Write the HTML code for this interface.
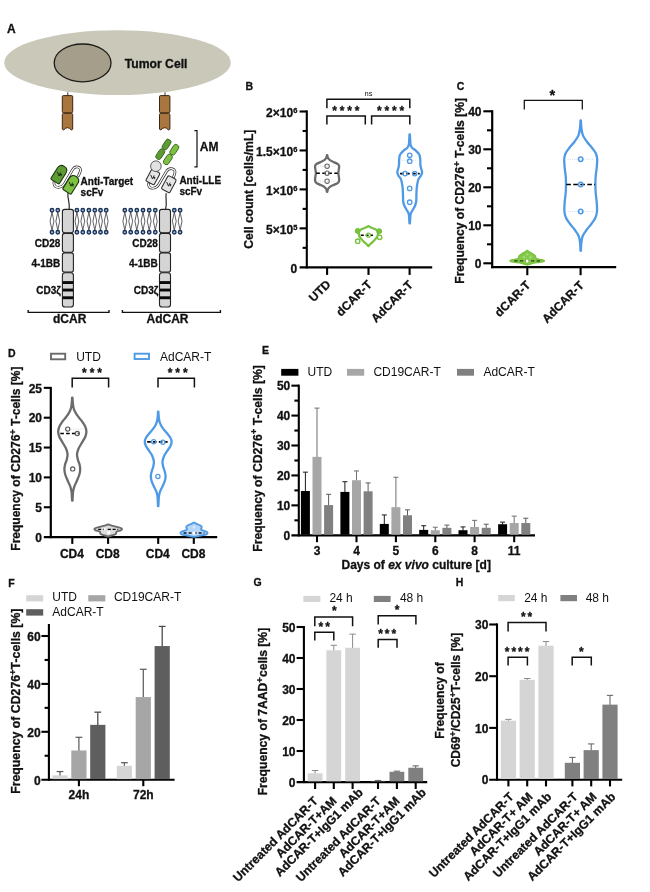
<!DOCTYPE html>
<html lang="en"><head><meta charset="utf-8"><title>Figure</title>
<style>html,body{margin:0;padding:0;background:#fff;}svg{display:block;}text{font-family:"Liberation Sans", Arial, Helvetica, sans-serif;}text[font-weight="bold"]{stroke:#111;stroke-width:0.3px;stroke-linejoin:round;}</style></head><body>
<svg width="650" height="892" viewBox="0 0 650 892">
<rect x="0" y="0" width="650" height="892" fill="#ffffff"/>
<g id="panelA">
<text x="7.00" y="33.40" font-size="12" font-weight="bold" text-anchor="start" fill="#111" >A</text>
<ellipse cx="117.5" cy="62.6" rx="113.3" ry="32.4" fill="#c9c8b9"/>
<ellipse cx="82.6" cy="62.9" rx="28.4" ry="18.9" fill="#a49e8b" stroke="#1e1c18" stroke-width="1.3"/>
<text x="124.70" y="67.60" font-size="12.2" font-weight="bold" text-anchor="start" fill="#111" >Tumor Cell</text>
<line x1="67.80" y1="92.30" x2="67.80" y2="96.00" stroke="#333" stroke-width="1" />
<path d="M63.30,95.6 H71.70 Q72.70,95.6 72.70,96.8 V111.6 Q72.70,112.7 71.50,112.9 H63.50 Q62.30,112.7 62.30,111.6 V96.8 Q62.30,95.6 63.30,95.6 Z" fill="#a8763e" stroke="#3b2611" stroke-width="1"/>
<path d="M63.50,113.3 H71.50 Q72.70,113.6 72.70,114.8 V129.2 L71.30,130 Q67.50,125.4 63.70,130 L62.30,129.2 V114.8 Q62.30,113.6 63.50,113.3 Z" fill="#a8763e" stroke="#3b2611" stroke-width="1"/>
<line x1="165.00" y1="92.30" x2="165.00" y2="96.00" stroke="#333" stroke-width="1" />
<path d="M160.50,95.6 H168.90 Q169.90,95.6 169.90,96.8 V111.6 Q169.90,112.7 168.70,112.9 H160.70 Q159.50,112.7 159.50,111.6 V96.8 Q159.50,95.6 160.50,95.6 Z" fill="#a8763e" stroke="#3b2611" stroke-width="1"/>
<path d="M160.70,113.3 H168.70 Q169.90,113.6 169.90,114.8 V129.2 L168.50,130 Q164.70,125.4 160.90,130 L159.50,129.2 V114.8 Q159.50,113.6 160.70,113.3 Z" fill="#a8763e" stroke="#3b2611" stroke-width="1"/>
<path d="M52.00,212.20 L50.10,221.20 L52.00,230.20 L53.90,221.20 Z" fill="none" stroke="#4f4f55" stroke-width="0.9"/>
<circle cx="52.00" cy="210.20" r="1.75" fill="#9fb8d8" stroke="#1b3357" stroke-width="1.35"/>
<circle cx="52.00" cy="232.20" r="1.75" fill="#9fb8d8" stroke="#1b3357" stroke-width="1.35"/>
<path d="M57.80,212.20 L55.90,221.20 L57.80,230.20 L59.70,221.20 Z" fill="none" stroke="#4f4f55" stroke-width="0.9"/>
<circle cx="57.80" cy="210.20" r="1.75" fill="#9fb8d8" stroke="#1b3357" stroke-width="1.35"/>
<circle cx="57.80" cy="232.20" r="1.75" fill="#9fb8d8" stroke="#1b3357" stroke-width="1.35"/>
<path d="M76.90,212.20 L75.00,221.20 L76.90,230.20 L78.80,221.20 Z" fill="none" stroke="#4f4f55" stroke-width="0.9"/>
<circle cx="76.90" cy="210.20" r="1.75" fill="#9fb8d8" stroke="#1b3357" stroke-width="1.35"/>
<circle cx="76.90" cy="232.20" r="1.75" fill="#9fb8d8" stroke="#1b3357" stroke-width="1.35"/>
<path d="M82.80,212.20 L80.90,221.20 L82.80,230.20 L84.70,221.20 Z" fill="none" stroke="#4f4f55" stroke-width="0.9"/>
<circle cx="82.80" cy="210.20" r="1.75" fill="#9fb8d8" stroke="#1b3357" stroke-width="1.35"/>
<circle cx="82.80" cy="232.20" r="1.75" fill="#9fb8d8" stroke="#1b3357" stroke-width="1.35"/>
<path d="M88.90,212.20 L87.00,221.20 L88.90,230.20 L90.80,221.20 Z" fill="none" stroke="#4f4f55" stroke-width="0.9"/>
<circle cx="88.90" cy="210.20" r="1.75" fill="#9fb8d8" stroke="#1b3357" stroke-width="1.35"/>
<circle cx="88.90" cy="232.20" r="1.75" fill="#9fb8d8" stroke="#1b3357" stroke-width="1.35"/>
<path d="M94.80,212.20 L92.90,221.20 L94.80,230.20 L96.70,221.20 Z" fill="none" stroke="#4f4f55" stroke-width="0.9"/>
<circle cx="94.80" cy="210.20" r="1.75" fill="#9fb8d8" stroke="#1b3357" stroke-width="1.35"/>
<circle cx="94.80" cy="232.20" r="1.75" fill="#9fb8d8" stroke="#1b3357" stroke-width="1.35"/>
<path d="M100.50,212.20 L98.60,221.20 L100.50,230.20 L102.40,221.20 Z" fill="none" stroke="#4f4f55" stroke-width="0.9"/>
<circle cx="100.50" cy="210.20" r="1.75" fill="#9fb8d8" stroke="#1b3357" stroke-width="1.35"/>
<circle cx="100.50" cy="232.20" r="1.75" fill="#9fb8d8" stroke="#1b3357" stroke-width="1.35"/>
<path d="M106.20,212.20 L104.30,221.20 L106.20,230.20 L108.10,221.20 Z" fill="none" stroke="#4f4f55" stroke-width="0.9"/>
<circle cx="106.20" cy="210.20" r="1.75" fill="#9fb8d8" stroke="#1b3357" stroke-width="1.35"/>
<circle cx="106.20" cy="232.20" r="1.75" fill="#9fb8d8" stroke="#1b3357" stroke-width="1.35"/>
<rect x="62.40" y="209.40" width="11.00" height="23.30" fill="#d5d5d5" stroke="#222" stroke-width="1.1" rx="2.2" />
<rect x="62.40" y="233.40" width="11.00" height="18.80" fill="#d5d5d5" stroke="#222" stroke-width="1.1" rx="2.2" />
<rect x="62.40" y="252.90" width="11.00" height="19.20" fill="#d5d5d5" stroke="#222" stroke-width="1.1" rx="2.2" />
<rect x="62.40" y="272.80" width="11.00" height="34.20" fill="#d5d5d5" stroke="#222" stroke-width="1.1" rx="2.6" />
<rect x="62.60" y="281.10" width="10.60" height="2.90" fill="#0a0a0a" stroke="none" stroke-width="0" rx="0" />
<rect x="62.60" y="288.60" width="10.60" height="2.90" fill="#0a0a0a" stroke="none" stroke-width="0" rx="0" />
<rect x="62.60" y="296.30" width="10.60" height="2.90" fill="#0a0a0a" stroke="none" stroke-width="0" rx="0" />
<path d="M124.80,212.20 L122.90,221.20 L124.80,230.20 L126.70,221.20 Z" fill="none" stroke="#4f4f55" stroke-width="0.9"/>
<circle cx="124.80" cy="210.20" r="1.75" fill="#9fb8d8" stroke="#1b3357" stroke-width="1.35"/>
<circle cx="124.80" cy="232.20" r="1.75" fill="#9fb8d8" stroke="#1b3357" stroke-width="1.35"/>
<path d="M130.70,212.20 L128.80,221.20 L130.70,230.20 L132.60,221.20 Z" fill="none" stroke="#4f4f55" stroke-width="0.9"/>
<circle cx="130.70" cy="210.20" r="1.75" fill="#9fb8d8" stroke="#1b3357" stroke-width="1.35"/>
<circle cx="130.70" cy="232.20" r="1.75" fill="#9fb8d8" stroke="#1b3357" stroke-width="1.35"/>
<path d="M136.80,212.20 L134.90,221.20 L136.80,230.20 L138.70,221.20 Z" fill="none" stroke="#4f4f55" stroke-width="0.9"/>
<circle cx="136.80" cy="210.20" r="1.75" fill="#9fb8d8" stroke="#1b3357" stroke-width="1.35"/>
<circle cx="136.80" cy="232.20" r="1.75" fill="#9fb8d8" stroke="#1b3357" stroke-width="1.35"/>
<path d="M143.00,212.20 L141.10,221.20 L143.00,230.20 L144.90,221.20 Z" fill="none" stroke="#4f4f55" stroke-width="0.9"/>
<circle cx="143.00" cy="210.20" r="1.75" fill="#9fb8d8" stroke="#1b3357" stroke-width="1.35"/>
<circle cx="143.00" cy="232.20" r="1.75" fill="#9fb8d8" stroke="#1b3357" stroke-width="1.35"/>
<path d="M149.20,212.20 L147.30,221.20 L149.20,230.20 L151.10,221.20 Z" fill="none" stroke="#4f4f55" stroke-width="0.9"/>
<circle cx="149.20" cy="210.20" r="1.75" fill="#9fb8d8" stroke="#1b3357" stroke-width="1.35"/>
<circle cx="149.20" cy="232.20" r="1.75" fill="#9fb8d8" stroke="#1b3357" stroke-width="1.35"/>
<path d="M155.30,212.20 L153.40,221.20 L155.30,230.20 L157.20,221.20 Z" fill="none" stroke="#4f4f55" stroke-width="0.9"/>
<circle cx="155.30" cy="210.20" r="1.75" fill="#9fb8d8" stroke="#1b3357" stroke-width="1.35"/>
<circle cx="155.30" cy="232.20" r="1.75" fill="#9fb8d8" stroke="#1b3357" stroke-width="1.35"/>
<path d="M174.30,212.20 L172.40,221.20 L174.30,230.20 L176.20,221.20 Z" fill="none" stroke="#4f4f55" stroke-width="0.9"/>
<circle cx="174.30" cy="210.20" r="1.75" fill="#9fb8d8" stroke="#1b3357" stroke-width="1.35"/>
<circle cx="174.30" cy="232.20" r="1.75" fill="#9fb8d8" stroke="#1b3357" stroke-width="1.35"/>
<path d="M180.10,212.20 L178.20,221.20 L180.10,230.20 L182.00,221.20 Z" fill="none" stroke="#4f4f55" stroke-width="0.9"/>
<circle cx="180.10" cy="210.20" r="1.75" fill="#9fb8d8" stroke="#1b3357" stroke-width="1.35"/>
<circle cx="180.10" cy="232.20" r="1.75" fill="#9fb8d8" stroke="#1b3357" stroke-width="1.35"/>
<rect x="159.50" y="209.40" width="11.00" height="23.30" fill="#d5d5d5" stroke="#222" stroke-width="1.1" rx="2.2" />
<rect x="159.50" y="233.40" width="11.00" height="18.80" fill="#d5d5d5" stroke="#222" stroke-width="1.1" rx="2.2" />
<rect x="159.50" y="252.90" width="11.00" height="19.20" fill="#d5d5d5" stroke="#222" stroke-width="1.1" rx="2.2" />
<rect x="159.50" y="272.80" width="11.00" height="34.20" fill="#d5d5d5" stroke="#222" stroke-width="1.1" rx="2.6" />
<rect x="159.70" y="281.10" width="10.60" height="2.90" fill="#0a0a0a" stroke="none" stroke-width="0" rx="0" />
<rect x="159.70" y="288.60" width="10.60" height="2.90" fill="#0a0a0a" stroke="none" stroke-width="0" rx="0" />
<rect x="159.70" y="296.30" width="10.60" height="2.90" fill="#0a0a0a" stroke="none" stroke-width="0" rx="0" />
<text x="60.30" y="247.00" font-size="10" font-weight="bold" text-anchor="end" fill="#111" >CD28</text>
<text x="60.30" y="266.80" font-size="10" font-weight="bold" text-anchor="end" fill="#111" >4-1BB</text>
<text x="60.90" y="293.60" font-size="10" font-weight="bold" text-anchor="end" fill="#111" >CD3ζ</text>
<text x="157.80" y="247.00" font-size="10" font-weight="bold" text-anchor="end" fill="#111" >CD28</text>
<text x="157.80" y="266.80" font-size="10" font-weight="bold" text-anchor="end" fill="#111" >4-1BB</text>
<text x="158.40" y="293.60" font-size="10" font-weight="bold" text-anchor="end" fill="#111" >CD3ζ</text>
<path d="M28.2,310 V312.4 H109 V310" fill="none" stroke="#111" stroke-width="1.4"/>
<path d="M122.4,310 V312.4 H220.4 V310" fill="none" stroke="#111" stroke-width="1.4"/>
<text x="69.70" y="322.90" font-size="12" font-weight="bold" text-anchor="middle" fill="#111" >dCAR</text>
<text x="167.50" y="322.90" font-size="12" font-weight="bold" text-anchor="middle" fill="#111" >AdCAR</text>
<path d="M54.0,181.8 C52.8,188.8 61.2,188.8 64.6,183.4 L72.6,169.6 C75.4,165.0 82.0,166.6 80.2,171.8 L78.6,175.4" fill="none" stroke="#2a2a2a" stroke-width="2.7" stroke-linecap="round" stroke-linejoin="round"/>
<path d="M54.0,181.8 C52.8,188.8 61.2,188.8 64.6,183.4 L72.6,169.6 C75.4,165.0 82.0,166.6 80.2,171.8 L78.6,175.4" fill="none" stroke="#ffffff" stroke-width="1.3" stroke-linecap="round" stroke-linejoin="round"/>
<path d="M68.0,192.6 C67.0,197.5 70.0,202 69.2,209" fill="none" stroke="#2a2a2a" stroke-width="1.2"/>
<g transform="translate(59.50,174.00) rotate(32)">
<path d="M-5.00,7.80 V-4.00 Q-5.00,-9.00 0.00,-9.00 H0.00 Q5.00,-9.00 5.00,-4.00 V7.80 Q5.00,9.00 3.80,9.00 H-3.80 Q-5.00,9.00 -5.00,7.80 Z" fill="#5d9c35" stroke="#1c3310" stroke-width="1.1"/>
<path d="M-2.2,-2.2 L-0.4,2.0 L1.2,-1.6 M0.6,0.6 L2.4,0.6 M1.5,-0.2 L1.5,2.2" fill="none" stroke="#14220a" stroke-width="0.95" transform="rotate(-32)"/>
</g>
<g transform="translate(71.40,184.20) rotate(32)">
<path d="M-5.00,7.80 V-4.00 Q-5.00,-9.00 0.00,-9.00 H0.00 Q5.00,-9.00 5.00,-4.00 V7.80 Q5.00,9.00 3.80,9.00 H-3.80 Q-5.00,9.00 -5.00,7.80 Z" fill="#7cc142" stroke="#1c3310" stroke-width="1.1"/>
<path d="M-2.2,-2.2 L-0.4,2.0 L1.2,-1.6 M0.6,0.6 L2.4,0.6 M1.5,-0.2 L1.5,2.2" fill="none" stroke="#14220a" stroke-width="0.95" transform="rotate(-32)"/>
</g>
<text x="80.60" y="184.60" font-size="10" font-weight="bold" text-anchor="start" fill="#111" >Anti-Target</text>
<text x="80.60" y="196.00" font-size="10" font-weight="bold" text-anchor="start" fill="#111" >scFv</text>
<path d="M148.6,183.8 C148.0,189.6 155.4,189.4 158.4,185 L166.6,171.2 C169.4,166.8 176.4,168.6 174.8,173.4 L173.6,177.0" fill="none" stroke="#2a2a2a" stroke-width="2.7" stroke-linecap="round" stroke-linejoin="round"/>
<path d="M148.6,183.8 C148.0,189.6 155.4,189.4 158.4,185 L166.6,171.2 C169.4,166.8 176.4,168.6 174.8,173.4 L173.6,177.0" fill="none" stroke="#ffffff" stroke-width="1.3" stroke-linecap="round" stroke-linejoin="round"/>
<path d="M166.2,193.2 C165.2,198 167.4,202.6 165.6,209" fill="none" stroke="#2a2a2a" stroke-width="1.2"/>
<g transform="translate(152.90,177.00) rotate(28)">
<path d="M-4.70,5.50 V-5.10 Q-4.70,-6.70 -3.10,-6.70 H3.10 Q4.70,-6.70 4.70,-5.10 V5.50 Q4.70,6.70 3.50,6.70 H-3.50 Q-4.70,6.70 -4.70,5.50 Z" fill="#e6e6e6" stroke="#333" stroke-width="1.1"/>
<path d="M-2.2,-2.2 L-0.4,2.0 L1.2,-1.6 M0.6,0.6 L2.4,0.6 M1.5,-0.2 L1.5,2.2" fill="none" stroke="#222" stroke-width="0.95" transform="rotate(-28)"/>
</g>
<g transform="translate(168.90,184.20) rotate(28)">
<path d="M-4.70,6.30 V-5.90 Q-4.70,-7.50 -3.10,-7.50 H3.10 Q4.70,-7.50 4.70,-5.90 V6.30 Q4.70,7.50 3.50,7.50 H-3.50 Q-4.70,7.50 -4.70,6.30 Z" fill="#e6e6e6" stroke="#333" stroke-width="1.1"/>
<path d="M-2.2,-2.2 L-0.4,2.0 L1.2,-1.6 M0.6,0.6 L2.4,0.6 M1.5,-0.2 L1.5,2.2" fill="none" stroke="#222" stroke-width="0.95" transform="rotate(-28)"/>
</g>
<circle cx="155.90" cy="166.20" r="5.3" fill="#e2e2e2" stroke="#4a4a4a" stroke-width="0.9"/>
<g transform="translate(157.20,158.90) rotate(-57.01)">
<rect x="0" y="-2.85" width="11.19" height="5.70" rx="2.6" fill="#5d9c35" stroke="#2f5a18" stroke-width="0.8"/>
<rect x="11.59" y="-2.85" width="11.19" height="5.70" rx="2.6" fill="#5d9c35" stroke="#2f5a18" stroke-width="0.8"/>
</g>
<g transform="translate(164.80,164.20) rotate(-56.73)">
<rect x="0" y="-2.85" width="11.28" height="5.70" rx="2.6" fill="#7cc142" stroke="#2f5a18" stroke-width="0.8"/>
<rect x="11.68" y="-2.85" width="11.28" height="5.70" rx="2.6" fill="#7cc142" stroke="#2f5a18" stroke-width="0.8"/>
</g>
<path d="M194.4,130.6 H197 V166.8 H194.4" fill="none" stroke="#111" stroke-width="1.2"/>
<text x="199.80" y="151.20" font-size="12" font-weight="bold" text-anchor="start" fill="#111" >AM</text>
<text x="179.40" y="183.90" font-size="10" font-weight="bold" text-anchor="start" fill="#111" >Anti-LLE</text>
<text x="179.40" y="195.20" font-size="10" font-weight="bold" text-anchor="start" fill="#111" >scFv</text>
</g>
<g id="panelB">
<text x="245.40" y="90.30" font-size="10.5" font-weight="bold" text-anchor="start" fill="#111" >B</text>
<line x1="306.80" y1="110.40" x2="306.80" y2="268.40" stroke="#000" stroke-width="2.1" />
<line x1="299.60" y1="267.40" x2="432.20" y2="267.40" stroke="#000" stroke-width="2.1" />
<text x="297.30" y="272.50" font-size="12" font-weight="bold" text-anchor="end" fill="#111" >0</text>
<line x1="299.60" y1="228.35" x2="306.80" y2="228.35" stroke="#000" stroke-width="2.1" />
<line x1="302.60" y1="247.83" x2="306.80" y2="247.83" stroke="#000" stroke-width="2.1" />
<text x="297.30" y="233.55" font-size="12" font-weight="bold" text-anchor="end" fill="#111" >5&#215;10<tspan dy="-3.6" font-size="7.5">5</tspan><tspan dy="3.6">&#8203;</tspan></text>
<line x1="299.60" y1="189.40" x2="306.80" y2="189.40" stroke="#000" stroke-width="2.1" />
<line x1="302.60" y1="208.88" x2="306.80" y2="208.88" stroke="#000" stroke-width="2.1" />
<text x="297.30" y="194.60" font-size="12" font-weight="bold" text-anchor="end" fill="#111" >1&#215;10<tspan dy="-3.6" font-size="7.5">6</tspan><tspan dy="3.6">&#8203;</tspan></text>
<line x1="299.60" y1="150.45" x2="306.80" y2="150.45" stroke="#000" stroke-width="2.1" />
<line x1="302.60" y1="169.92" x2="306.80" y2="169.92" stroke="#000" stroke-width="2.1" />
<text x="297.30" y="155.65" font-size="12" font-weight="bold" text-anchor="end" fill="#111" >1.5&#215;10<tspan dy="-3.6" font-size="7.5">6</tspan><tspan dy="3.6">&#8203;</tspan></text>
<line x1="299.60" y1="111.50" x2="306.80" y2="111.50" stroke="#000" stroke-width="2.1" />
<line x1="302.60" y1="130.97" x2="306.80" y2="130.97" stroke="#000" stroke-width="2.1" />
<text x="297.30" y="116.70" font-size="12" font-weight="bold" text-anchor="end" fill="#111" >2&#215;10<tspan dy="-3.6" font-size="7.5">6</tspan><tspan dy="3.6">&#8203;</tspan></text>
<line x1="327.10" y1="267.40" x2="327.10" y2="274.90" stroke="#000" stroke-width="2.1" />
<line x1="368.50" y1="267.40" x2="368.50" y2="274.90" stroke="#000" stroke-width="2.1" />
<line x1="409.60" y1="267.40" x2="409.60" y2="274.90" stroke="#000" stroke-width="2.1" />
<text transform="translate(253.10,189.20) rotate(-90)" font-size="12.2" font-weight="bold" text-anchor="middle" fill="#111" >Cell count [cells/mL]</text>
<text transform="translate(331.30,285.00) rotate(-45)" font-size="12" font-weight="bold" text-anchor="end" fill="#111" >UTD</text>
<text transform="translate(372.60,285.30) rotate(-45)" font-size="12" font-weight="bold" text-anchor="end" fill="#111" >dCAR-T</text>
<text transform="translate(413.80,285.60) rotate(-45)" font-size="12" font-weight="bold" text-anchor="end" fill="#111" >AdCAR-T</text>
<path d="M326.90,108.30 V99.30 H409.80 V108.30" fill="none" stroke="#111" stroke-width="1.5" stroke-linejoin="miter"/>
<text x="368.50" y="95.90" font-size="7.5" font-weight="normal" text-anchor="middle" fill="#111" >ns</text>
<path d="M326.90,124.60 V116.00 H365.30 V124.60" fill="none" stroke="#111" stroke-width="1.5" stroke-linejoin="miter"/>
<path d="M371.60,124.60 V116.00 H409.80 V124.60" fill="none" stroke="#111" stroke-width="1.5" stroke-linejoin="miter"/>
<text x="332.32" y="114.93" font-size="12" font-weight="bold" text-anchor="start" fill="#111" letter-spacing="2.83">****</text>
<text x="376.92" y="114.93" font-size="12" font-weight="bold" text-anchor="start" fill="#111" letter-spacing="2.83">****</text>
<path d="M327.30,155.20 C327.42,155.67 327.50,157.13 328.00,158.00 C328.50,158.87 329.22,159.67 330.30,160.40 C331.38,161.13 333.23,161.77 334.50,162.40 C335.77,163.03 337.13,163.60 337.90,164.20 C338.67,164.80 338.95,165.12 339.10,166.00 C339.25,166.88 338.93,168.30 338.80,169.50 C338.67,170.70 338.28,171.95 338.30,173.20 C338.32,174.45 338.77,175.73 338.90,177.00 C339.03,178.27 339.27,179.83 339.10,180.80 C338.93,181.77 338.67,182.17 337.90,182.80 C337.13,183.43 335.77,183.97 334.50,184.60 C333.23,185.23 331.38,185.87 330.30,186.60 C329.22,187.33 328.50,188.13 328.00,189.00 C327.50,189.87 327.42,191.33 327.30,191.80 L326.90,191.80 C326.78,191.33 326.70,189.87 326.20,189.00 C325.70,188.13 324.98,187.33 323.90,186.60 C322.82,185.87 320.97,185.23 319.70,184.60 C318.43,183.97 317.07,183.43 316.30,182.80 C315.53,182.17 315.27,181.77 315.10,180.80 C314.93,179.83 315.17,178.27 315.30,177.00 C315.43,175.73 315.88,174.45 315.90,173.20 C315.92,171.95 315.53,170.70 315.40,169.50 C315.27,168.30 314.95,166.88 315.10,166.00 C315.25,165.12 315.53,164.80 316.30,164.20 C317.07,163.60 318.43,163.03 319.70,162.40 C320.97,161.77 322.82,161.13 323.90,160.40 C324.98,159.67 325.70,158.87 326.20,158.00 C326.70,157.13 326.78,155.67 326.90,155.20 Z" fill="none" stroke="#6b6b6b" stroke-width="2.3" stroke-linejoin="round" stroke-linecap="round"/>
<line x1="318.10" y1="166.20" x2="336.10" y2="166.20" stroke="#c4c4c4" stroke-width="0.7" stroke-dasharray="1,1.2"/>
<line x1="318.10" y1="181.20" x2="336.10" y2="181.20" stroke="#c4c4c4" stroke-width="0.7" stroke-dasharray="1,1.2"/>
<line x1="316.30" y1="173.20" x2="337.50" y2="173.20" stroke="#000" stroke-width="1.6" stroke-dasharray="3.6,2.4"/>
<circle cx="327.10" cy="166.20" r="2.2" fill="none" stroke="#6b6b6b" stroke-width="1.1"/>
<circle cx="327.10" cy="173.20" r="2.2" fill="none" stroke="#6b6b6b" stroke-width="1.1"/>
<circle cx="327.10" cy="181.20" r="2.2" fill="none" stroke="#6b6b6b" stroke-width="1.1"/>
<path d="M368.60,226.20 C368.98,226.43 369.85,227.13 370.90,227.60 C371.95,228.07 373.82,228.50 374.90,229.00 C375.98,229.50 376.88,229.93 377.40,230.60 C377.92,231.27 377.97,232.10 378.00,233.00 C378.03,233.90 377.93,235.10 377.60,236.00 C377.27,236.90 376.57,237.67 376.00,238.40 C375.43,239.13 374.87,239.70 374.20,240.40 C373.53,241.10 372.73,241.90 372.00,242.60 C371.27,243.30 370.37,244.00 369.80,244.60 C369.23,245.20 368.80,245.93 368.60,246.20 L368.20,246.20 C368.00,245.93 367.57,245.20 367.00,244.60 C366.43,244.00 365.53,243.30 364.80,242.60 C364.07,241.90 363.27,241.10 362.60,240.40 C361.93,239.70 361.37,239.13 360.80,238.40 C360.23,237.67 359.53,236.90 359.20,236.00 C358.87,235.10 358.77,233.90 358.80,233.00 C358.83,232.10 358.88,231.27 359.40,230.60 C359.92,229.93 360.82,229.50 361.90,229.00 C362.98,228.50 364.85,228.07 365.90,227.60 C366.95,227.13 367.82,226.43 368.20,226.20 Z" fill="none" stroke="#78c13c" stroke-width="2.2" stroke-linejoin="round" stroke-linecap="round"/>
<line x1="360.80" y1="235.20" x2="373.00" y2="235.20" stroke="#000" stroke-width="1.5" stroke-dasharray="3,1.8"/>
<circle cx="357.70" cy="230.90" r="2.5" fill="#78c13c" stroke="#78c13c" stroke-width="1.0"/>
<circle cx="379.20" cy="231.20" r="2.5" fill="#78c13c" stroke="#78c13c" stroke-width="1.0"/>
<circle cx="357.70" cy="241.20" r="2.2" fill="#fff" stroke="#78c13c" stroke-width="1.4"/>
<circle cx="379.60" cy="237.30" r="2.2" fill="#fff" stroke="#78c13c" stroke-width="1.4"/>
<circle cx="368.50" cy="235.20" r="2.0" fill="none" stroke="#78c13c" stroke-width="1.2"/>
<path d="M409.90,134.40 C409.95,135.33 410.08,138.23 410.20,140.00 C410.32,141.77 410.25,143.67 410.60,145.00 C410.95,146.33 411.48,147.12 412.30,148.00 C413.12,148.88 414.53,149.47 415.50,150.30 C416.47,151.13 417.40,152.12 418.10,153.00 C418.80,153.88 419.33,154.43 419.70,155.60 C420.07,156.77 420.18,158.43 420.30,160.00 C420.42,161.57 420.23,163.50 420.40,165.00 C420.57,166.50 421.02,167.73 421.30,169.00 C421.58,170.27 422.20,171.43 422.10,172.60 C422.00,173.77 421.30,174.92 420.70,176.00 C420.10,177.08 419.07,177.77 418.50,179.10 C417.93,180.43 417.60,182.43 417.30,184.00 C417.00,185.57 416.85,186.67 416.70,188.50 C416.55,190.33 416.48,192.83 416.40,195.00 C416.32,197.17 416.45,199.67 416.20,201.50 C415.95,203.33 415.45,204.63 414.90,206.00 C414.35,207.37 413.50,208.63 412.90,209.70 C412.30,210.77 411.70,211.55 411.30,212.40 C410.90,213.25 410.73,212.97 410.50,214.80 C410.27,216.63 410.00,221.97 409.90,223.40 L409.50,223.40 C409.40,221.97 409.13,216.63 408.90,214.80 C408.67,212.97 408.50,213.25 408.10,212.40 C407.70,211.55 407.10,210.77 406.50,209.70 C405.90,208.63 405.05,207.37 404.50,206.00 C403.95,204.63 403.45,203.33 403.20,201.50 C402.95,199.67 403.08,197.17 403.00,195.00 C402.92,192.83 402.85,190.33 402.70,188.50 C402.55,186.67 402.40,185.57 402.10,184.00 C401.80,182.43 401.47,180.43 400.90,179.10 C400.33,177.77 399.30,177.08 398.70,176.00 C398.10,174.92 397.40,173.77 397.30,172.60 C397.20,171.43 397.82,170.27 398.10,169.00 C398.38,167.73 398.83,166.50 399.00,165.00 C399.17,163.50 398.98,161.57 399.10,160.00 C399.22,158.43 399.33,156.77 399.70,155.60 C400.07,154.43 400.60,153.88 401.30,153.00 C402.00,152.12 402.93,151.13 403.90,150.30 C404.87,149.47 406.28,148.88 407.10,148.00 C407.92,147.12 408.45,146.33 408.80,145.00 C409.15,143.67 409.08,141.77 409.20,140.00 C409.32,138.23 409.45,135.33 409.50,134.40 Z" fill="none" stroke="#4f9ae6" stroke-width="2.3" stroke-linejoin="round" stroke-linecap="round"/>
<line x1="401.70" y1="160.40" x2="417.70" y2="160.40" stroke="#b9d6f5" stroke-width="0.7" stroke-dasharray="1,1.2"/>
<line x1="400.10" y1="173.60" x2="419.70" y2="173.60" stroke="#000" stroke-width="1.6" stroke-dasharray="3.6,2.4"/>
<circle cx="409.70" cy="155.30" r="2.2" fill="none" stroke="#4f9ae6" stroke-width="1.3"/>
<circle cx="409.70" cy="161.20" r="2.2" fill="none" stroke="#4f9ae6" stroke-width="1.3"/>
<circle cx="405.00" cy="173.60" r="2.2" fill="none" stroke="#4f9ae6" stroke-width="1.3"/>
<circle cx="414.70" cy="173.60" r="2.2" fill="none" stroke="#4f9ae6" stroke-width="1.3"/>
<circle cx="409.70" cy="188.40" r="2.2" fill="none" stroke="#4f9ae6" stroke-width="1.3"/>
<circle cx="409.70" cy="202.20" r="2.2" fill="none" stroke="#4f9ae6" stroke-width="1.3"/>
</g>
<g id="panelC">
<text x="456.80" y="90.30" font-size="10.5" font-weight="bold" text-anchor="start" fill="#111" >C</text>
<line x1="492.20" y1="110.20" x2="492.20" y2="268.20" stroke="#000" stroke-width="2.2" />
<line x1="491.10" y1="267.10" x2="616.20" y2="267.10" stroke="#000" stroke-width="2.2" />
<line x1="483.30" y1="263.30" x2="492.20" y2="263.30" stroke="#000" stroke-width="2.1" />
<text x="481.50" y="268.10" font-size="12" font-weight="bold" text-anchor="end" fill="#111" >0</text>
<line x1="483.30" y1="225.30" x2="492.20" y2="225.30" stroke="#000" stroke-width="2.1" />
<line x1="487.00" y1="244.30" x2="492.20" y2="244.30" stroke="#000" stroke-width="2.1" />
<text x="481.50" y="230.10" font-size="12" font-weight="bold" text-anchor="end" fill="#111" >10</text>
<line x1="483.30" y1="187.30" x2="492.20" y2="187.30" stroke="#000" stroke-width="2.1" />
<line x1="487.00" y1="206.30" x2="492.20" y2="206.30" stroke="#000" stroke-width="2.1" />
<text x="481.50" y="192.10" font-size="12" font-weight="bold" text-anchor="end" fill="#111" >20</text>
<line x1="483.30" y1="149.30" x2="492.20" y2="149.30" stroke="#000" stroke-width="2.1" />
<line x1="487.00" y1="168.30" x2="492.20" y2="168.30" stroke="#000" stroke-width="2.1" />
<text x="481.50" y="154.10" font-size="12" font-weight="bold" text-anchor="end" fill="#111" >30</text>
<line x1="483.30" y1="111.30" x2="492.20" y2="111.30" stroke="#000" stroke-width="2.1" />
<line x1="487.00" y1="130.30" x2="492.20" y2="130.30" stroke="#000" stroke-width="2.1" />
<text x="481.50" y="116.10" font-size="12" font-weight="bold" text-anchor="end" fill="#111" >40</text>
<line x1="527.30" y1="267.10" x2="527.30" y2="275.20" stroke="#000" stroke-width="2.1" />
<line x1="580.60" y1="267.10" x2="580.60" y2="275.20" stroke="#000" stroke-width="2.1" />
<text transform="translate(463.90,190.90) rotate(-90)" font-size="12.1" font-weight="bold" text-anchor="middle" fill="#111" >Frequency of CD276<tspan dy="-4.2" font-size="9.5">+</tspan><tspan dy="4.2">&#8203;</tspan> T-cells [%]</text>
<text transform="translate(531.20,285.80) rotate(-45)" font-size="12" font-weight="bold" text-anchor="end" fill="#111" >dCAR-T</text>
<text transform="translate(584.60,286.00) rotate(-45)" font-size="12" font-weight="bold" text-anchor="end" fill="#111" >AdCAR-T</text>
<path d="M524.30,109.50 V100.30 H582.30 V109.50" fill="none" stroke="#111" stroke-width="1.25" stroke-linejoin="miter"/>
<text x="549.58" y="100.49" font-size="14.5" font-weight="bold" text-anchor="start" fill="#111" letter-spacing="1.06">*</text>
<path d="M580.90,120.40 C580.98,121.67 581.07,125.50 581.40,128.00 C581.73,130.50 581.95,133.07 582.90,135.40 C583.85,137.73 585.57,139.90 587.10,142.00 C588.63,144.10 590.63,146.08 592.10,148.00 C593.57,149.92 595.05,151.58 595.90,153.50 C596.75,155.42 597.07,157.08 597.20,159.50 C597.33,161.92 596.95,165.25 596.70,168.00 C596.45,170.75 595.92,173.25 595.70,176.00 C595.48,178.75 595.40,181.67 595.40,184.50 C595.40,187.33 595.48,190.08 595.70,193.00 C595.92,195.92 596.48,198.92 596.70,202.00 C596.92,205.08 597.23,208.83 597.00,211.50 C596.77,214.17 596.25,215.92 595.30,218.00 C594.35,220.08 592.77,222.00 591.30,224.00 C589.83,226.00 587.93,228.00 586.50,230.00 C585.07,232.00 583.57,233.83 582.70,236.00 C581.83,238.17 581.60,240.53 581.30,243.00 C581.00,245.47 580.97,249.50 580.90,250.80 L580.50,250.80 C580.43,249.50 580.40,245.47 580.10,243.00 C579.80,240.53 579.57,238.17 578.70,236.00 C577.83,233.83 576.33,232.00 574.90,230.00 C573.47,228.00 571.57,226.00 570.10,224.00 C568.63,222.00 567.05,220.08 566.10,218.00 C565.15,215.92 564.63,214.17 564.40,211.50 C564.17,208.83 564.48,205.08 564.70,202.00 C564.92,198.92 565.48,195.92 565.70,193.00 C565.92,190.08 566.00,187.33 566.00,184.50 C566.00,181.67 565.92,178.75 565.70,176.00 C565.48,173.25 564.95,170.75 564.70,168.00 C564.45,165.25 564.07,161.92 564.20,159.50 C564.33,157.08 564.65,155.42 565.50,153.50 C566.35,151.58 567.83,149.92 569.30,148.00 C570.77,146.08 572.77,144.10 574.30,142.00 C575.83,139.90 577.55,137.73 578.50,135.40 C579.45,133.07 579.67,130.50 580.00,128.00 C580.33,125.50 580.42,121.67 580.50,120.40 Z" fill="none" stroke="#4f9ae6" stroke-width="2.3" stroke-linejoin="round" stroke-linecap="round"/>
<line x1="567.70" y1="159.30" x2="593.70" y2="159.30" stroke="#b9d6f5" stroke-width="0.8" stroke-dasharray="1,1.2"/>
<line x1="567.70" y1="211.50" x2="593.70" y2="211.50" stroke="#b9d6f5" stroke-width="0.8" stroke-dasharray="1,1.2"/>
<line x1="566.30" y1="184.50" x2="595.10" y2="184.50" stroke="#000" stroke-width="1.7" stroke-dasharray="4.6,2.4"/>
<circle cx="580.70" cy="159.30" r="2.2" fill="none" stroke="#4f9ae6" stroke-width="1.5"/>
<circle cx="580.70" cy="184.50" r="2.2" fill="none" stroke="#4f9ae6" stroke-width="1.5"/>
<circle cx="580.70" cy="211.50" r="2.2" fill="none" stroke="#4f9ae6" stroke-width="1.5"/>
<path d="M527.40,250.30 C527.77,250.58 528.70,251.42 529.60,252.00 C530.50,252.58 531.87,253.20 532.80,253.80 C533.73,254.40 534.70,255.00 535.20,255.60 C535.70,256.20 535.57,256.90 535.80,257.40 C536.03,257.90 535.93,258.27 536.60,258.60 C537.27,258.93 538.63,259.13 539.80,259.40 C540.97,259.67 542.83,259.95 543.60,260.20 C544.37,260.45 544.40,260.67 544.40,260.90 C544.40,261.13 544.47,261.35 543.60,261.60 C542.73,261.85 540.87,262.13 539.20,262.40 C537.53,262.67 535.10,262.90 533.60,263.20 C532.10,263.50 531.20,263.90 530.20,264.20 C529.20,264.50 528.03,264.87 527.60,265.00 L526.80,265.00 C526.37,264.87 525.20,264.50 524.20,264.20 C523.20,263.90 522.30,263.50 520.80,263.20 C519.30,262.90 516.87,262.67 515.20,262.40 C513.53,262.13 511.67,261.85 510.80,261.60 C509.93,261.35 510.00,261.13 510.00,260.90 C510.00,260.67 510.03,260.45 510.80,260.20 C511.57,259.95 513.43,259.67 514.60,259.40 C515.77,259.13 517.13,258.93 517.80,258.60 C518.47,258.27 518.37,257.90 518.60,257.40 C518.83,256.90 518.70,256.20 519.20,255.60 C519.70,255.00 520.67,254.40 521.60,253.80 C522.53,253.20 523.90,252.58 524.80,252.00 C525.70,251.42 526.63,250.58 527.00,250.30 Z" fill="#84c84c" stroke="#78c13c" stroke-width="1.3" stroke-linejoin="round" stroke-linecap="round"/>
<line x1="514.20" y1="260.90" x2="540.20" y2="260.90" stroke="#234510" stroke-width="1.3" stroke-dasharray="3.4,2.2"/>
<circle cx="527.20" cy="254.40" r="1.2" fill="#a4dc74" stroke="none" stroke-width="0"/>
<circle cx="524.00" cy="257.20" r="1.2" fill="#a4dc74" stroke="none" stroke-width="0"/>
<circle cx="530.40" cy="257.20" r="1.2" fill="#a4dc74" stroke="none" stroke-width="0"/>
<circle cx="527.20" cy="260.90" r="1.5" fill="#ffffff" stroke="none" stroke-width="0"/>
</g>
<g id="panelD" transform="translate(0,0.7)">
<text x="8.00" y="356.80" font-size="10.5" font-weight="bold" text-anchor="start" fill="#111" >D</text>
<rect x="51.00" y="353.00" width="14.20" height="5.60" fill="#fff" stroke="#6b6b6b" stroke-width="1.9" rx="0" />
<text x="76.20" y="359.90" font-size="12" font-weight="normal" text-anchor="start" fill="#111" >UTD</text>
<rect x="134.60" y="353.00" width="14.40" height="5.30" fill="#fff" stroke="#4f9ae6" stroke-width="1.9" rx="0" />
<text x="160.00" y="359.90" font-size="12" font-weight="normal" text-anchor="start" fill="#111" >AdCAR-T</text>
<line x1="50.80" y1="386.20" x2="50.80" y2="537.50" stroke="#000" stroke-width="2.2" />
<line x1="43.80" y1="536.50" x2="217.20" y2="536.50" stroke="#000" stroke-width="2.2" />
<text x="42.00" y="541.20" font-size="12" font-weight="bold" text-anchor="end" fill="#111" >0</text>
<line x1="43.80" y1="506.55" x2="50.80" y2="506.55" stroke="#000" stroke-width="2.1" />
<text x="42.00" y="511.35" font-size="12" font-weight="bold" text-anchor="end" fill="#111" >5</text>
<line x1="43.80" y1="476.70" x2="50.80" y2="476.70" stroke="#000" stroke-width="2.1" />
<text x="42.00" y="481.50" font-size="12" font-weight="bold" text-anchor="end" fill="#111" >10</text>
<line x1="43.80" y1="446.85" x2="50.80" y2="446.85" stroke="#000" stroke-width="2.1" />
<text x="42.00" y="451.65" font-size="12" font-weight="bold" text-anchor="end" fill="#111" >15</text>
<line x1="43.80" y1="417.00" x2="50.80" y2="417.00" stroke="#000" stroke-width="2.1" />
<text x="42.00" y="421.80" font-size="12" font-weight="bold" text-anchor="end" fill="#111" >20</text>
<line x1="43.80" y1="387.15" x2="50.80" y2="387.15" stroke="#000" stroke-width="2.1" />
<text x="42.00" y="391.95" font-size="12" font-weight="bold" text-anchor="end" fill="#111" >25</text>
<line x1="72.30" y1="536.50" x2="72.30" y2="543.20" stroke="#000" stroke-width="2.1" />
<text x="71.90" y="557.30" font-size="12" font-weight="bold" text-anchor="middle" fill="#111" >CD4</text>
<line x1="108.10" y1="536.50" x2="108.10" y2="543.20" stroke="#000" stroke-width="2.1" />
<text x="107.70" y="557.30" font-size="12" font-weight="bold" text-anchor="middle" fill="#111" >CD8</text>
<line x1="158.20" y1="536.50" x2="158.20" y2="543.20" stroke="#000" stroke-width="2.1" />
<text x="157.80" y="557.30" font-size="12" font-weight="bold" text-anchor="middle" fill="#111" >CD4</text>
<line x1="193.80" y1="536.50" x2="193.80" y2="543.20" stroke="#000" stroke-width="2.1" />
<text x="193.40" y="557.30" font-size="12" font-weight="bold" text-anchor="middle" fill="#111" >CD8</text>
<text transform="translate(20.00,457.95) rotate(-90)" font-size="12.0" font-weight="bold" text-anchor="middle" fill="#111" >Frequency of CD276<tspan dy="-4.2" font-size="9.2">+</tspan><tspan dy="4.2">&#8203;</tspan> T-cells [%]</text>
<path d="M72.20,386.70 V377.50 H108.60 V386.70" fill="none" stroke="#111" stroke-width="1.5" stroke-linejoin="miter"/>
<path d="M158.00,386.70 V377.50 H194.40 V386.70" fill="none" stroke="#111" stroke-width="1.5" stroke-linejoin="miter"/>
<text x="82.07" y="376.03" font-size="12" font-weight="bold" text-anchor="start" fill="#111" letter-spacing="2.93">***</text>
<text x="167.77" y="376.03" font-size="12" font-weight="bold" text-anchor="start" fill="#111" letter-spacing="2.93">***</text>
<path d="M72.50,397.00 C72.57,398.00 72.67,401.08 72.90,403.00 C73.13,404.92 73.27,406.67 73.90,408.50 C74.53,410.33 75.43,412.08 76.70,414.00 C77.97,415.92 80.07,418.00 81.50,420.00 C82.93,422.00 84.48,424.17 85.30,426.00 C86.12,427.83 86.40,429.33 86.40,431.00 C86.40,432.67 86.05,434.17 85.30,436.00 C84.55,437.83 83.03,440.00 81.90,442.00 C80.77,444.00 79.32,446.07 78.50,448.00 C77.68,449.93 77.10,451.77 77.00,453.60 C76.90,455.43 77.47,457.27 77.90,459.00 C78.33,460.73 79.22,462.40 79.60,464.00 C79.98,465.60 80.25,466.93 80.20,468.60 C80.15,470.27 79.85,472.10 79.30,474.00 C78.75,475.90 77.73,478.00 76.90,480.00 C76.07,482.00 74.93,484.17 74.30,486.00 C73.67,487.83 73.40,488.67 73.10,491.00 C72.80,493.33 72.60,498.50 72.50,500.00 L72.10,500.00 C72.00,498.50 71.80,493.33 71.50,491.00 C71.20,488.67 70.93,487.83 70.30,486.00 C69.67,484.17 68.53,482.00 67.70,480.00 C66.87,478.00 65.85,475.90 65.30,474.00 C64.75,472.10 64.45,470.27 64.40,468.60 C64.35,466.93 64.62,465.60 65.00,464.00 C65.38,462.40 66.27,460.73 66.70,459.00 C67.13,457.27 67.70,455.43 67.60,453.60 C67.50,451.77 66.92,449.93 66.10,448.00 C65.28,446.07 63.83,444.00 62.70,442.00 C61.57,440.00 60.05,437.83 59.30,436.00 C58.55,434.17 58.20,432.67 58.20,431.00 C58.20,429.33 58.48,427.83 59.30,426.00 C60.12,424.17 61.67,422.00 63.10,420.00 C64.53,418.00 66.63,415.92 67.90,414.00 C69.17,412.08 70.07,410.33 70.70,408.50 C71.33,406.67 71.47,404.92 71.70,403.00 C71.93,401.08 72.03,398.00 72.10,397.00 Z" fill="none" stroke="#6b6b6b" stroke-width="2.3" stroke-linejoin="round" stroke-linecap="round"/>
<line x1="71.30" y1="428.40" x2="83.30" y2="428.40" stroke="#c4c4c4" stroke-width="0.7" stroke-dasharray="1,1.2"/>
<line x1="60.30" y1="432.80" x2="78.70" y2="432.80" stroke="#000" stroke-width="1.6" stroke-dasharray="3.6,2.2"/>
<circle cx="67.70" cy="428.40" r="2.1" fill="none" stroke="#5a5a5a" stroke-width="1.2"/>
<circle cx="77.30" cy="432.80" r="2.1" fill="none" stroke="#5a5a5a" stroke-width="1.2"/>
<circle cx="72.70" cy="468.20" r="2.1" fill="none" stroke="#5a5a5a" stroke-width="1.2"/>
<path d="M108.40,523.80 C108.93,524.00 110.03,524.57 111.60,525.00 C113.17,525.43 116.17,525.97 117.80,526.40 C119.43,526.83 120.70,527.23 121.40,527.60 C122.10,527.97 122.10,528.27 122.00,528.60 C121.90,528.93 121.67,529.23 120.80,529.60 C119.93,529.97 117.57,530.37 116.80,530.80 C116.03,531.23 116.43,531.73 116.20,532.20 C115.97,532.67 116.13,533.17 115.40,533.60 C114.67,534.03 112.95,534.43 111.80,534.80 C110.65,535.17 109.05,535.63 108.50,535.80 L107.90,535.80 C107.35,535.63 105.75,535.17 104.60,534.80 C103.45,534.43 101.73,534.03 101.00,533.60 C100.27,533.17 100.43,532.67 100.20,532.20 C99.97,531.73 100.37,531.23 99.60,530.80 C98.83,530.37 96.47,529.97 95.60,529.60 C94.73,529.23 94.50,528.93 94.40,528.60 C94.30,528.27 94.30,527.97 95.00,527.60 C95.70,527.23 96.97,526.83 98.60,526.40 C100.23,525.97 103.23,525.43 104.80,525.00 C106.37,524.57 107.47,524.00 108.00,523.80 Z" fill="#dcdcdc" stroke="#6b6b6b" stroke-width="1.9" stroke-linejoin="round" stroke-linecap="round"/>
<line x1="98.20" y1="528.60" x2="118.20" y2="528.60" stroke="#000" stroke-width="1.3" stroke-dasharray="3,1.8"/>
<circle cx="104.80" cy="528.40" r="1.3" fill="#ffffff" stroke="none" stroke-width="0"/>
<circle cx="108.80" cy="531.80" r="1.6" fill="#ffffff" stroke="none" stroke-width="0"/>
<path d="M158.40,411.00 C158.47,412.00 158.57,415.17 158.80,417.00 C159.03,418.83 159.20,420.33 159.80,422.00 C160.40,423.67 161.27,425.33 162.40,427.00 C163.53,428.67 165.27,430.33 166.60,432.00 C167.93,433.67 169.57,435.50 170.40,437.00 C171.23,438.50 171.57,439.67 171.60,441.00 C171.63,442.33 171.30,443.50 170.60,445.00 C169.90,446.50 168.47,448.33 167.40,450.00 C166.33,451.67 165.02,453.17 164.20,455.00 C163.38,456.83 162.67,459.17 162.50,461.00 C162.33,462.83 162.82,464.33 163.20,466.00 C163.58,467.67 164.40,469.37 164.80,471.00 C165.20,472.63 165.63,474.13 165.60,475.80 C165.57,477.47 165.13,479.30 164.60,481.00 C164.07,482.70 163.17,484.33 162.40,486.00 C161.63,487.67 160.58,489.33 160.00,491.00 C159.42,492.67 159.17,493.60 158.90,496.00 C158.63,498.40 158.48,503.83 158.40,505.40 L158.00,505.40 C157.92,503.83 157.77,498.40 157.50,496.00 C157.23,493.60 156.98,492.67 156.40,491.00 C155.82,489.33 154.77,487.67 154.00,486.00 C153.23,484.33 152.33,482.70 151.80,481.00 C151.27,479.30 150.83,477.47 150.80,475.80 C150.77,474.13 151.20,472.63 151.60,471.00 C152.00,469.37 152.82,467.67 153.20,466.00 C153.58,464.33 154.07,462.83 153.90,461.00 C153.73,459.17 153.02,456.83 152.20,455.00 C151.38,453.17 150.07,451.67 149.00,450.00 C147.93,448.33 146.50,446.50 145.80,445.00 C145.10,443.50 144.77,442.33 144.80,441.00 C144.83,439.67 145.17,438.50 146.00,437.00 C146.83,435.50 148.47,433.67 149.80,432.00 C151.13,430.33 152.87,428.67 154.00,427.00 C155.13,425.33 156.00,423.67 156.60,422.00 C157.20,420.33 157.37,418.83 157.60,417.00 C157.83,415.17 157.93,412.00 158.00,411.00 Z" fill="none" stroke="#4f9ae6" stroke-width="2.3" stroke-linejoin="round" stroke-linecap="round"/>
<line x1="147.20" y1="441.20" x2="167.60" y2="441.20" stroke="#000" stroke-width="1.6" stroke-dasharray="3.6,2.2"/>
<circle cx="153.70" cy="441.00" r="2.1" fill="none" stroke="#4f9ae6" stroke-width="1.3"/>
<circle cx="162.90" cy="441.60" r="2.1" fill="none" stroke="#4f9ae6" stroke-width="1.3"/>
<circle cx="157.90" cy="475.80" r="2.1" fill="none" stroke="#4f9ae6" stroke-width="1.3"/>
<path d="M194.20,521.90 C194.60,522.12 195.57,522.72 196.60,523.20 C197.63,523.68 199.53,524.25 200.40,524.80 C201.27,525.35 201.70,525.93 201.80,526.50 C201.90,527.07 200.97,527.72 201.00,528.20 C201.03,528.68 201.10,528.97 202.00,529.40 C202.90,529.83 205.47,530.33 206.40,530.80 C207.33,531.27 207.60,531.73 207.60,532.20 C207.60,532.67 207.50,533.17 206.40,533.60 C205.30,534.03 203.00,534.37 201.00,534.80 C199.00,535.23 195.50,535.97 194.40,536.20 L193.60,536.20 C192.50,535.97 189.00,535.23 187.00,534.80 C185.00,534.37 182.70,534.03 181.60,533.60 C180.50,533.17 180.40,532.67 180.40,532.20 C180.40,531.73 180.67,531.27 181.60,530.80 C182.53,530.33 185.10,529.83 186.00,529.40 C186.90,528.97 186.97,528.68 187.00,528.20 C187.03,527.72 186.10,527.07 186.20,526.50 C186.30,525.93 186.73,525.35 187.60,524.80 C188.47,524.25 190.37,523.68 191.40,523.20 C192.43,522.72 193.40,522.12 193.80,521.90 Z" fill="#b7d6f7" stroke="#4f9ae6" stroke-width="1.8" stroke-linejoin="round" stroke-linecap="round"/>
<line x1="183.60" y1="532.30" x2="204.40" y2="532.30" stroke="#0a1a2c" stroke-width="1.5" stroke-dasharray="3,2"/>
<circle cx="194.00" cy="526.40" r="1.3" fill="#d4e8fb" stroke="none" stroke-width="0"/>
<circle cx="194.00" cy="532.30" r="1.5" fill="#ffffff" stroke="none" stroke-width="0"/>
</g>
<g id="panelE">
<text x="262.00" y="353.90" font-size="10.5" font-weight="bold" text-anchor="start" fill="#111" >E</text>
<rect x="281.20" y="368.90" width="17.20" height="6.80" fill="#000" stroke="none" stroke-width="0" rx="0" />
<text x="307.60" y="375.90" font-size="12" font-weight="normal" text-anchor="start" fill="#111" >UTD</text>
<rect x="347.00" y="368.90" width="17.20" height="6.80" fill="#a6a6a6" stroke="none" stroke-width="0" rx="0" />
<text x="373.40" y="375.90" font-size="12" font-weight="normal" text-anchor="start" fill="#111" >CD19CAR-T</text>
<rect x="457.00" y="368.90" width="17.00" height="6.80" fill="#808080" stroke="none" stroke-width="0" rx="0" />
<text x="483.40" y="375.90" font-size="12" font-weight="normal" text-anchor="start" fill="#111" >AdCAR-T</text>
<line x1="298.80" y1="384.60" x2="298.80" y2="536.40" stroke="#000" stroke-width="2.1" />
<line x1="291.40" y1="535.40" x2="535.00" y2="535.40" stroke="#000" stroke-width="2.1" />
<text x="290.30" y="540.10" font-size="12" font-weight="bold" text-anchor="end" fill="#111" >0</text>
<line x1="291.40" y1="505.37" x2="298.80" y2="505.37" stroke="#000" stroke-width="2.1" />
<line x1="294.40" y1="520.33" x2="298.80" y2="520.33" stroke="#000" stroke-width="2.1" />
<text x="290.30" y="510.17" font-size="12" font-weight="bold" text-anchor="end" fill="#111" >10</text>
<line x1="291.40" y1="475.44" x2="298.80" y2="475.44" stroke="#000" stroke-width="2.1" />
<line x1="294.40" y1="490.40" x2="298.80" y2="490.40" stroke="#000" stroke-width="2.1" />
<text x="290.30" y="480.24" font-size="12" font-weight="bold" text-anchor="end" fill="#111" >20</text>
<line x1="291.40" y1="445.51" x2="298.80" y2="445.51" stroke="#000" stroke-width="2.1" />
<line x1="294.40" y1="460.47" x2="298.80" y2="460.47" stroke="#000" stroke-width="2.1" />
<text x="290.30" y="450.31" font-size="12" font-weight="bold" text-anchor="end" fill="#111" >30</text>
<line x1="291.40" y1="415.58" x2="298.80" y2="415.58" stroke="#000" stroke-width="2.1" />
<line x1="294.40" y1="430.54" x2="298.80" y2="430.54" stroke="#000" stroke-width="2.1" />
<text x="290.30" y="420.38" font-size="12" font-weight="bold" text-anchor="end" fill="#111" >40</text>
<line x1="291.40" y1="385.65" x2="298.80" y2="385.65" stroke="#000" stroke-width="2.1" />
<line x1="294.40" y1="400.61" x2="298.80" y2="400.61" stroke="#000" stroke-width="2.1" />
<text x="290.30" y="390.45" font-size="12" font-weight="bold" text-anchor="end" fill="#111" >50</text>
<text transform="translate(261.50,458.45) rotate(-90)" font-size="12.17" font-weight="bold" text-anchor="middle" fill="#111" >Frequency of CD276<tspan dy="-4.2" font-size="9.5">+</tspan><tspan dy="4.2">&#8203;</tspan> T-cells [%]</text>
<line x1="317.00" y1="535.40" x2="317.00" y2="542.20" stroke="#000" stroke-width="2.1" />
<text x="317.00" y="554.70" font-size="12" font-weight="bold" text-anchor="middle" fill="#111" >3</text>
<line x1="305.40" y1="472.15" x2="305.40" y2="491.50" stroke="#1a1a1a" stroke-width="1.0" />
<line x1="302.90" y1="472.15" x2="307.90" y2="472.15" stroke="#1a1a1a" stroke-width="1.0" />
<rect x="300.90" y="491.00" width="9.00" height="43.70" fill="#000000" stroke="none" stroke-width="0" rx="0" />
<line x1="317.00" y1="408.10" x2="317.00" y2="457.38" stroke="#6f6f6f" stroke-width="1.0" />
<line x1="314.50" y1="408.10" x2="319.50" y2="408.10" stroke="#6f6f6f" stroke-width="1.0" />
<rect x="312.50" y="456.88" width="9.00" height="77.82" fill="#a6a6a6" stroke="none" stroke-width="0" rx="0" />
<line x1="328.60" y1="494.30" x2="328.60" y2="505.57" stroke="#5c5c5c" stroke-width="1.0" />
<line x1="326.10" y1="494.30" x2="331.10" y2="494.30" stroke="#5c5c5c" stroke-width="1.0" />
<rect x="324.10" y="505.07" width="9.00" height="29.63" fill="#808080" stroke="none" stroke-width="0" rx="0" />
<line x1="356.50" y1="535.40" x2="356.50" y2="542.20" stroke="#000" stroke-width="2.1" />
<text x="356.50" y="554.70" font-size="12" font-weight="bold" text-anchor="middle" fill="#111" >4</text>
<line x1="344.90" y1="481.73" x2="344.90" y2="492.40" stroke="#1a1a1a" stroke-width="1.0" />
<line x1="342.40" y1="481.73" x2="347.40" y2="481.73" stroke="#1a1a1a" stroke-width="1.0" />
<rect x="340.40" y="491.90" width="9.00" height="42.80" fill="#000000" stroke="none" stroke-width="0" rx="0" />
<line x1="356.50" y1="470.95" x2="356.50" y2="480.73" stroke="#6f6f6f" stroke-width="1.0" />
<line x1="354.00" y1="470.95" x2="359.00" y2="470.95" stroke="#6f6f6f" stroke-width="1.0" />
<rect x="352.00" y="480.23" width="9.00" height="54.47" fill="#a6a6a6" stroke="none" stroke-width="0" rx="0" />
<line x1="368.10" y1="482.92" x2="368.10" y2="491.80" stroke="#5c5c5c" stroke-width="1.0" />
<line x1="365.60" y1="482.92" x2="370.60" y2="482.92" stroke="#5c5c5c" stroke-width="1.0" />
<rect x="363.60" y="491.30" width="9.00" height="43.40" fill="#808080" stroke="none" stroke-width="0" rx="0" />
<line x1="395.90" y1="535.40" x2="395.90" y2="542.20" stroke="#000" stroke-width="2.1" />
<text x="395.90" y="554.70" font-size="12" font-weight="bold" text-anchor="middle" fill="#111" >5</text>
<line x1="384.30" y1="514.95" x2="384.30" y2="524.43" stroke="#1a1a1a" stroke-width="1.0" />
<line x1="381.80" y1="514.95" x2="386.80" y2="514.95" stroke="#1a1a1a" stroke-width="1.0" />
<rect x="379.80" y="523.93" width="9.00" height="10.77" fill="#000000" stroke="none" stroke-width="0" rx="0" />
<line x1="395.90" y1="477.24" x2="395.90" y2="507.67" stroke="#6f6f6f" stroke-width="1.0" />
<line x1="393.40" y1="477.24" x2="398.40" y2="477.24" stroke="#6f6f6f" stroke-width="1.0" />
<rect x="391.40" y="507.17" width="9.00" height="27.53" fill="#a6a6a6" stroke="none" stroke-width="0" rx="0" />
<line x1="407.50" y1="509.86" x2="407.50" y2="515.75" stroke="#5c5c5c" stroke-width="1.0" />
<line x1="405.00" y1="509.86" x2="410.00" y2="509.86" stroke="#5c5c5c" stroke-width="1.0" />
<rect x="403.00" y="515.25" width="9.00" height="19.45" fill="#808080" stroke="none" stroke-width="0" rx="0" />
<line x1="435.30" y1="535.40" x2="435.30" y2="542.20" stroke="#000" stroke-width="2.1" />
<text x="435.30" y="554.70" font-size="12" font-weight="bold" text-anchor="middle" fill="#111" >6</text>
<line x1="423.70" y1="525.72" x2="423.70" y2="530.41" stroke="#1a1a1a" stroke-width="1.0" />
<line x1="421.20" y1="525.72" x2="426.20" y2="525.72" stroke="#1a1a1a" stroke-width="1.0" />
<rect x="419.20" y="529.91" width="9.00" height="4.79" fill="#000000" stroke="none" stroke-width="0" rx="0" />
<line x1="435.30" y1="527.22" x2="435.30" y2="530.71" stroke="#6f6f6f" stroke-width="1.0" />
<line x1="432.80" y1="527.22" x2="437.80" y2="527.22" stroke="#6f6f6f" stroke-width="1.0" />
<rect x="430.80" y="530.21" width="9.00" height="4.49" fill="#a6a6a6" stroke="none" stroke-width="0" rx="0" />
<line x1="446.90" y1="525.12" x2="446.90" y2="528.32" stroke="#5c5c5c" stroke-width="1.0" />
<line x1="444.40" y1="525.12" x2="449.40" y2="525.12" stroke="#5c5c5c" stroke-width="1.0" />
<rect x="442.40" y="527.82" width="9.00" height="6.88" fill="#808080" stroke="none" stroke-width="0" rx="0" />
<line x1="474.60" y1="535.40" x2="474.60" y2="542.20" stroke="#000" stroke-width="2.1" />
<text x="474.60" y="554.70" font-size="12" font-weight="bold" text-anchor="middle" fill="#111" >8</text>
<line x1="463.00" y1="526.92" x2="463.00" y2="530.71" stroke="#1a1a1a" stroke-width="1.0" />
<line x1="460.50" y1="526.92" x2="465.50" y2="526.92" stroke="#1a1a1a" stroke-width="1.0" />
<rect x="458.50" y="530.21" width="9.00" height="4.49" fill="#000000" stroke="none" stroke-width="0" rx="0" />
<line x1="474.60" y1="520.33" x2="474.60" y2="527.42" stroke="#6f6f6f" stroke-width="1.0" />
<line x1="472.10" y1="520.33" x2="477.10" y2="520.33" stroke="#6f6f6f" stroke-width="1.0" />
<rect x="470.10" y="526.92" width="9.00" height="7.78" fill="#a6a6a6" stroke="none" stroke-width="0" rx="0" />
<line x1="486.20" y1="524.23" x2="486.20" y2="528.32" stroke="#5c5c5c" stroke-width="1.0" />
<line x1="483.70" y1="524.23" x2="488.70" y2="524.23" stroke="#5c5c5c" stroke-width="1.0" />
<rect x="481.70" y="527.82" width="9.00" height="6.88" fill="#808080" stroke="none" stroke-width="0" rx="0" />
<line x1="514.20" y1="535.40" x2="514.20" y2="542.20" stroke="#000" stroke-width="2.1" />
<text x="514.20" y="554.70" font-size="12" font-weight="bold" text-anchor="middle" fill="#111" >11</text>
<line x1="502.60" y1="522.13" x2="502.60" y2="524.73" stroke="#1a1a1a" stroke-width="1.0" />
<line x1="500.10" y1="522.13" x2="505.10" y2="522.13" stroke="#1a1a1a" stroke-width="1.0" />
<rect x="498.10" y="524.23" width="9.00" height="10.47" fill="#000000" stroke="none" stroke-width="0" rx="0" />
<line x1="514.20" y1="516.14" x2="514.20" y2="523.53" stroke="#6f6f6f" stroke-width="1.0" />
<line x1="511.70" y1="516.14" x2="516.70" y2="516.14" stroke="#6f6f6f" stroke-width="1.0" />
<rect x="509.70" y="523.03" width="9.00" height="11.67" fill="#a6a6a6" stroke="none" stroke-width="0" rx="0" />
<line x1="525.80" y1="518.24" x2="525.80" y2="523.53" stroke="#5c5c5c" stroke-width="1.0" />
<line x1="523.30" y1="518.24" x2="528.30" y2="518.24" stroke="#5c5c5c" stroke-width="1.0" />
<rect x="521.30" y="523.03" width="9.00" height="11.67" fill="#808080" stroke="none" stroke-width="0" rx="0" />
<text x="341.50" y="568.60" font-size="12" font-weight="bold" text-anchor="start" fill="#111" >Days of <tspan font-style="italic">ex vivo</tspan> culture [d]</text>
</g>
<g id="panelF">
<text x="8.20" y="586.90" font-size="10.5" font-weight="bold" text-anchor="start" fill="#111" >F</text>
<rect x="26.20" y="595.20" width="17.00" height="6.20" fill="#d5d5d5" stroke="none" stroke-width="0" rx="0" />
<text x="52.30" y="601.40" font-size="12" font-weight="normal" text-anchor="start" fill="#111" >UTD</text>
<rect x="88.30" y="595.20" width="17.00" height="6.20" fill="#a6a6a6" stroke="none" stroke-width="0" rx="0" />
<text x="113.90" y="601.40" font-size="12" font-weight="normal" text-anchor="start" fill="#111" >CD19CAR-T</text>
<rect x="26.20" y="609.20" width="17.00" height="6.40" fill="#5e5e5e" stroke="none" stroke-width="0" rx="0" />
<text x="52.30" y="616.00" font-size="12" font-weight="normal" text-anchor="start" fill="#111" >AdCAR-T</text>
<line x1="48.90" y1="624.00" x2="48.90" y2="780.80" stroke="#000" stroke-width="2.1" />
<line x1="41.40" y1="779.80" x2="174.60" y2="779.80" stroke="#000" stroke-width="2.1" />
<line x1="44.60" y1="755.75" x2="48.90" y2="755.75" stroke="#000" stroke-width="2.1" />
<text x="40.60" y="784.50" font-size="12" font-weight="bold" text-anchor="end" fill="#111" >0</text>
<line x1="41.40" y1="731.80" x2="48.90" y2="731.80" stroke="#000" stroke-width="2.1" />
<line x1="44.60" y1="707.85" x2="48.90" y2="707.85" stroke="#000" stroke-width="2.1" />
<text x="40.60" y="736.60" font-size="12" font-weight="bold" text-anchor="end" fill="#111" >20</text>
<line x1="41.40" y1="683.90" x2="48.90" y2="683.90" stroke="#000" stroke-width="2.1" />
<line x1="44.60" y1="659.95" x2="48.90" y2="659.95" stroke="#000" stroke-width="2.1" />
<text x="40.60" y="688.70" font-size="12" font-weight="bold" text-anchor="end" fill="#111" >40</text>
<line x1="41.40" y1="636.00" x2="48.90" y2="636.00" stroke="#000" stroke-width="2.1" />
<text x="40.60" y="640.80" font-size="12" font-weight="bold" text-anchor="end" fill="#111" >60</text>
<text transform="translate(20.00,701.20) rotate(-90)" font-size="12.3" font-weight="bold" text-anchor="middle" fill="#111" >Frequency of CD276<tspan dy="-4.2" font-size="9.5">+</tspan><tspan dy="4.2">&#8203;</tspan>T-cells [%]</text>
<text x="78.90" y="798.60" font-size="12" font-weight="bold" text-anchor="middle" fill="#111" >24h</text>
<line x1="78.90" y1="779.80" x2="78.90" y2="786.20" stroke="#000" stroke-width="2.1" />
<line x1="60.00" y1="771.56" x2="60.00" y2="775.89" stroke="#5f5f5f" stroke-width="1.25" />
<line x1="56.60" y1="771.56" x2="63.40" y2="771.56" stroke="#5f5f5f" stroke-width="1.25" />
<rect x="52.40" y="775.39" width="15.20" height="3.71" fill="#d5d5d5" stroke="none" stroke-width="0" rx="0" />
<line x1="78.90" y1="737.31" x2="78.90" y2="750.98" stroke="#5f5f5f" stroke-width="1.25" />
<line x1="75.50" y1="737.31" x2="82.30" y2="737.31" stroke="#5f5f5f" stroke-width="1.25" />
<rect x="71.30" y="750.48" width="15.20" height="28.62" fill="#a6a6a6" stroke="none" stroke-width="0" rx="0" />
<line x1="97.80" y1="712.16" x2="97.80" y2="725.35" stroke="#454545" stroke-width="1.25" />
<line x1="94.40" y1="712.16" x2="101.20" y2="712.16" stroke="#454545" stroke-width="1.25" />
<rect x="90.20" y="724.85" width="15.20" height="54.25" fill="#5e5e5e" stroke="none" stroke-width="0" rx="0" />
<text x="143.30" y="798.60" font-size="12" font-weight="bold" text-anchor="middle" fill="#111" >72h</text>
<line x1="143.30" y1="779.80" x2="143.30" y2="786.20" stroke="#000" stroke-width="2.1" />
<line x1="124.40" y1="762.70" x2="124.40" y2="766.31" stroke="#5f5f5f" stroke-width="1.25" />
<line x1="121.00" y1="762.70" x2="127.80" y2="762.70" stroke="#5f5f5f" stroke-width="1.25" />
<rect x="116.80" y="765.81" width="15.20" height="13.29" fill="#d5d5d5" stroke="none" stroke-width="0" rx="0" />
<line x1="143.30" y1="669.29" x2="143.30" y2="697.57" stroke="#5f5f5f" stroke-width="1.25" />
<line x1="139.90" y1="669.29" x2="146.70" y2="669.29" stroke="#5f5f5f" stroke-width="1.25" />
<rect x="135.70" y="697.07" width="15.20" height="82.03" fill="#a6a6a6" stroke="none" stroke-width="0" rx="0" />
<line x1="162.20" y1="626.42" x2="162.20" y2="646.56" stroke="#454545" stroke-width="1.25" />
<line x1="158.80" y1="626.42" x2="165.60" y2="626.42" stroke="#454545" stroke-width="1.25" />
<rect x="154.60" y="646.06" width="15.20" height="133.04" fill="#5e5e5e" stroke="none" stroke-width="0" rx="0" />
</g>
<g id="panelG">
<text x="253.60" y="585.90" font-size="10.5" font-weight="bold" text-anchor="start" fill="#111" >G</text>
<rect x="303.40" y="595.90" width="17.00" height="6.10" fill="#d5d5d5" stroke="none" stroke-width="0" rx="0" />
<text x="329.40" y="602.20" font-size="12" font-weight="normal" text-anchor="start" fill="#111" >24 h</text>
<rect x="373.80" y="595.90" width="16.80" height="6.10" fill="#808080" stroke="none" stroke-width="0" rx="0" />
<text x="399.90" y="602.20" font-size="12" font-weight="normal" text-anchor="start" fill="#111" >48 h</text>
<line x1="303.90" y1="626.00" x2="303.90" y2="783.10" stroke="#000" stroke-width="2.1" />
<line x1="296.60" y1="782.10" x2="427.20" y2="782.10" stroke="#000" stroke-width="2.1" />
<text x="295.50" y="786.80" font-size="12" font-weight="bold" text-anchor="end" fill="#111" >0</text>
<line x1="296.60" y1="751.00" x2="303.90" y2="751.00" stroke="#000" stroke-width="2.1" />
<text x="295.50" y="755.80" font-size="12" font-weight="bold" text-anchor="end" fill="#111" >10</text>
<line x1="296.60" y1="720.00" x2="303.90" y2="720.00" stroke="#000" stroke-width="2.1" />
<text x="295.50" y="724.80" font-size="12" font-weight="bold" text-anchor="end" fill="#111" >20</text>
<line x1="296.60" y1="689.00" x2="303.90" y2="689.00" stroke="#000" stroke-width="2.1" />
<text x="295.50" y="693.80" font-size="12" font-weight="bold" text-anchor="end" fill="#111" >30</text>
<line x1="296.60" y1="658.00" x2="303.90" y2="658.00" stroke="#000" stroke-width="2.1" />
<text x="295.50" y="662.80" font-size="12" font-weight="bold" text-anchor="end" fill="#111" >40</text>
<line x1="296.60" y1="627.00" x2="303.90" y2="627.00" stroke="#000" stroke-width="2.1" />
<text x="295.50" y="631.80" font-size="12" font-weight="bold" text-anchor="end" fill="#111" >50</text>
<text transform="translate(266.90,711.55) rotate(-90)" font-size="12.15" font-weight="bold" text-anchor="middle" fill="#111" >Frequency of 7AAD<tspan dy="-4.2" font-size="9.5">+</tspan><tspan dy="4.2">&#8203;</tspan>cells [%]</text>
<line x1="315.10" y1="770.53" x2="315.10" y2="773.82" stroke="#8a8a8a" stroke-width="1.0" />
<line x1="311.90" y1="770.53" x2="318.30" y2="770.53" stroke="#8a8a8a" stroke-width="1.0" />
<rect x="307.70" y="773.32" width="14.80" height="8.08" fill="#d5d5d5" stroke="none" stroke-width="0" rx="0" />
<line x1="315.10" y1="782.10" x2="315.10" y2="789.00" stroke="#000" stroke-width="2.1" />
<text transform="translate(318.70,801.80) rotate(-45)" font-size="12.2" font-weight="bold" text-anchor="end" fill="#111" >Untreated AdCAR-T</text>
<line x1="333.80" y1="645.29" x2="333.80" y2="650.75" stroke="#8a8a8a" stroke-width="1.0" />
<line x1="330.60" y1="645.29" x2="337.00" y2="645.29" stroke="#8a8a8a" stroke-width="1.0" />
<rect x="326.40" y="650.25" width="14.80" height="131.15" fill="#d5d5d5" stroke="none" stroke-width="0" rx="0" />
<line x1="333.80" y1="782.10" x2="333.80" y2="789.00" stroke="#000" stroke-width="2.1" />
<text transform="translate(337.40,801.80) rotate(-45)" font-size="12.2" font-weight="bold" text-anchor="end" fill="#111" >AdCAR-T+AM</text>
<line x1="352.60" y1="634.13" x2="352.60" y2="648.27" stroke="#8a8a8a" stroke-width="1.0" />
<line x1="349.40" y1="634.13" x2="355.80" y2="634.13" stroke="#8a8a8a" stroke-width="1.0" />
<rect x="345.20" y="647.77" width="14.80" height="133.63" fill="#d5d5d5" stroke="none" stroke-width="0" rx="0" />
<line x1="352.60" y1="782.10" x2="352.60" y2="789.00" stroke="#000" stroke-width="2.1" />
<text transform="translate(363.70,793.30) rotate(-45)" font-size="12.2" font-weight="bold" text-anchor="end" fill="#111" >AdCAR-T+IgG1 mAb</text>
<line x1="378.00" y1="780.45" x2="378.00" y2="781.41" stroke="#5e5e5e" stroke-width="1.0" />
<line x1="374.80" y1="780.45" x2="381.20" y2="780.45" stroke="#5e5e5e" stroke-width="1.0" />
<rect x="370.60" y="780.91" width="14.80" height="0.49" fill="#808080" stroke="none" stroke-width="0" rx="0" />
<line x1="378.00" y1="782.10" x2="378.00" y2="789.00" stroke="#000" stroke-width="2.1" />
<text transform="translate(381.60,801.80) rotate(-45)" font-size="12.2" font-weight="bold" text-anchor="end" fill="#111" >Untreated AdCAR-T</text>
<line x1="396.90" y1="771.15" x2="396.90" y2="772.27" stroke="#5e5e5e" stroke-width="1.0" />
<line x1="393.70" y1="771.15" x2="400.10" y2="771.15" stroke="#5e5e5e" stroke-width="1.0" />
<rect x="389.50" y="771.77" width="14.80" height="9.63" fill="#808080" stroke="none" stroke-width="0" rx="0" />
<line x1="396.90" y1="782.10" x2="396.90" y2="789.00" stroke="#000" stroke-width="2.1" />
<text transform="translate(400.50,801.80) rotate(-45)" font-size="12.2" font-weight="bold" text-anchor="end" fill="#111" >AdCAR-T+AM</text>
<line x1="415.70" y1="765.88" x2="415.70" y2="768.24" stroke="#5e5e5e" stroke-width="1.0" />
<line x1="412.50" y1="765.88" x2="418.90" y2="765.88" stroke="#5e5e5e" stroke-width="1.0" />
<rect x="408.30" y="767.74" width="14.80" height="13.66" fill="#808080" stroke="none" stroke-width="0" rx="0" />
<line x1="415.70" y1="782.10" x2="415.70" y2="789.00" stroke="#000" stroke-width="2.1" />
<text transform="translate(426.80,793.30) rotate(-45)" font-size="12.2" font-weight="bold" text-anchor="end" fill="#111" >AdCAR-T+IgG1 mAb</text>
<path d="M314.80,626.20 V617.00 H352.60 V626.20" fill="none" stroke="#111" stroke-width="1.5" stroke-linejoin="miter"/>
<path d="M314.80,640.60 V632.20 H333.80 V640.60" fill="none" stroke="#111" stroke-width="1.5" stroke-linejoin="miter"/>
<path d="M378.20,624.60 V615.80 H415.90 V624.60" fill="none" stroke="#111" stroke-width="1.5" stroke-linejoin="miter"/>
<path d="M378.20,647.80 V639.40 H397.00 V647.80" fill="none" stroke="#111" stroke-width="1.5" stroke-linejoin="miter"/>
<text x="332.07" y="614.83" font-size="12" font-weight="bold" text-anchor="start" fill="#111" letter-spacing="2.03">*</text>
<text x="318.62" y="631.23" font-size="12" font-weight="bold" text-anchor="start" fill="#111" letter-spacing="2.03">**</text>
<text x="394.67" y="613.83" font-size="12" font-weight="bold" text-anchor="start" fill="#111" letter-spacing="2.03">*</text>
<text x="378.17" y="637.83" font-size="12" font-weight="bold" text-anchor="start" fill="#111" letter-spacing="2.03">***</text>
</g>
<g id="panelH">
<text x="455.80" y="585.90" font-size="10.5" font-weight="bold" text-anchor="start" fill="#111" >H</text>
<rect x="498.20" y="595.00" width="16.60" height="6.20" fill="#d5d5d5" stroke="none" stroke-width="0" rx="0" />
<text x="524.20" y="601.60" font-size="12" font-weight="normal" text-anchor="start" fill="#111" >24 h</text>
<rect x="560.40" y="595.00" width="16.60" height="6.20" fill="#808080" stroke="none" stroke-width="0" rx="0" />
<text x="585.70" y="601.60" font-size="12" font-weight="normal" text-anchor="start" fill="#111" >48 h</text>
<line x1="497.00" y1="623.40" x2="497.00" y2="780.70" stroke="#000" stroke-width="2.1" />
<line x1="489.20" y1="779.70" x2="622.20" y2="779.70" stroke="#000" stroke-width="2.1" />
<text x="488.40" y="784.40" font-size="12" font-weight="bold" text-anchor="end" fill="#111" >0</text>
<line x1="489.20" y1="727.90" x2="497.00" y2="727.90" stroke="#000" stroke-width="2.1" />
<text x="488.40" y="732.70" font-size="12" font-weight="bold" text-anchor="end" fill="#111" >10</text>
<line x1="489.20" y1="676.20" x2="497.00" y2="676.20" stroke="#000" stroke-width="2.1" />
<text x="488.40" y="681.00" font-size="12" font-weight="bold" text-anchor="end" fill="#111" >20</text>
<line x1="489.20" y1="624.50" x2="497.00" y2="624.50" stroke="#000" stroke-width="2.1" />
<text x="488.40" y="629.30" font-size="12" font-weight="bold" text-anchor="end" fill="#111" >30</text>
<text transform="translate(443.60,700.40) rotate(-90)" font-size="12.2" font-weight="bold" text-anchor="middle" fill="#111" >Frequency of</text>
<text transform="translate(459.90,700.00) rotate(-90)" font-size="12.0" font-weight="bold" text-anchor="middle" fill="#111" >CD69<tspan dy="-4.2" font-size="9">+</tspan><tspan dy="4.2">&#8203;</tspan>/CD25<tspan dy="-4.2" font-size="9">+</tspan><tspan dy="4.2">&#8203;</tspan>T-cells [%]</text>
<line x1="508.40" y1="719.37" x2="508.40" y2="721.16" stroke="#8a8a8a" stroke-width="1.0" />
<line x1="505.20" y1="719.37" x2="511.60" y2="719.37" stroke="#8a8a8a" stroke-width="1.0" />
<rect x="500.80" y="720.66" width="15.20" height="58.34" fill="#d5d5d5" stroke="none" stroke-width="0" rx="0" />
<line x1="508.40" y1="779.70" x2="508.40" y2="786.40" stroke="#000" stroke-width="2.1" />
<text transform="translate(514.60,797.60) rotate(-45)" font-size="12.2" font-weight="bold" text-anchor="end" fill="#111" >Untreated AdCAR-T</text>
<line x1="527.20" y1="678.53" x2="527.20" y2="680.32" stroke="#8a8a8a" stroke-width="1.0" />
<line x1="524.00" y1="678.53" x2="530.40" y2="678.53" stroke="#8a8a8a" stroke-width="1.0" />
<rect x="519.60" y="679.82" width="15.20" height="99.18" fill="#d5d5d5" stroke="none" stroke-width="0" rx="0" />
<line x1="527.20" y1="779.70" x2="527.20" y2="786.40" stroke="#000" stroke-width="2.1" />
<text transform="translate(533.40,797.60) rotate(-45)" font-size="12.2" font-weight="bold" text-anchor="end" fill="#111" >AdCAR-T+ AM</text>
<line x1="546.00" y1="641.56" x2="546.00" y2="646.20" stroke="#8a8a8a" stroke-width="1.0" />
<line x1="542.80" y1="641.56" x2="549.20" y2="641.56" stroke="#8a8a8a" stroke-width="1.0" />
<rect x="538.40" y="645.70" width="15.20" height="133.30" fill="#d5d5d5" stroke="none" stroke-width="0" rx="0" />
<line x1="546.00" y1="779.70" x2="546.00" y2="786.40" stroke="#000" stroke-width="2.1" />
<text transform="translate(552.20,797.60) rotate(-45)" font-size="12.2" font-weight="bold" text-anchor="end" fill="#111" >AdCAR-T+IgG1 mAb</text>
<line x1="572.40" y1="757.37" x2="572.40" y2="763.30" stroke="#5e5e5e" stroke-width="1.0" />
<line x1="569.20" y1="757.37" x2="575.60" y2="757.37" stroke="#5e5e5e" stroke-width="1.0" />
<rect x="564.80" y="762.80" width="15.20" height="16.20" fill="#808080" stroke="none" stroke-width="0" rx="0" />
<line x1="572.40" y1="779.70" x2="572.40" y2="786.40" stroke="#000" stroke-width="2.1" />
<text transform="translate(578.60,797.60) rotate(-45)" font-size="12.2" font-weight="bold" text-anchor="end" fill="#111" >Untreated AdCAR-T</text>
<line x1="591.20" y1="743.93" x2="591.20" y2="750.63" stroke="#5e5e5e" stroke-width="1.0" />
<line x1="588.00" y1="743.93" x2="594.40" y2="743.93" stroke="#5e5e5e" stroke-width="1.0" />
<rect x="583.60" y="750.13" width="15.20" height="28.87" fill="#808080" stroke="none" stroke-width="0" rx="0" />
<line x1="591.20" y1="779.70" x2="591.20" y2="786.40" stroke="#000" stroke-width="2.1" />
<text transform="translate(597.40,797.60) rotate(-45)" font-size="12.2" font-weight="bold" text-anchor="end" fill="#111" >AdCAR-T+ AM</text>
<line x1="610.00" y1="695.33" x2="610.00" y2="705.13" stroke="#5e5e5e" stroke-width="1.0" />
<line x1="606.80" y1="695.33" x2="613.20" y2="695.33" stroke="#5e5e5e" stroke-width="1.0" />
<rect x="602.40" y="704.63" width="15.20" height="74.37" fill="#808080" stroke="none" stroke-width="0" rx="0" />
<line x1="610.00" y1="779.70" x2="610.00" y2="786.40" stroke="#000" stroke-width="2.1" />
<text transform="translate(616.20,797.60) rotate(-45)" font-size="12.2" font-weight="bold" text-anchor="end" fill="#111" >AdCAR-T+IgG1 mAb</text>
<path d="M508.10,631.40 V622.40 H546.00 V631.40" fill="none" stroke="#111" stroke-width="1.5" stroke-linejoin="miter"/>
<path d="M508.10,665.60 V657.20 H527.40 V665.60" fill="none" stroke="#111" stroke-width="1.5" stroke-linejoin="miter"/>
<path d="M572.20,665.60 V657.20 H591.30 V665.60" fill="none" stroke="#111" stroke-width="1.5" stroke-linejoin="miter"/>
<text x="520.92" y="621.03" font-size="12" font-weight="bold" text-anchor="start" fill="#111" letter-spacing="2.03">**</text>
<text x="504.72" y="655.63" font-size="12" font-weight="bold" text-anchor="start" fill="#111" letter-spacing="2.03">****</text>
<text x="579.07" y="655.63" font-size="12" font-weight="bold" text-anchor="start" fill="#111" letter-spacing="2.03">*</text>
</g>
</svg></body></html>
